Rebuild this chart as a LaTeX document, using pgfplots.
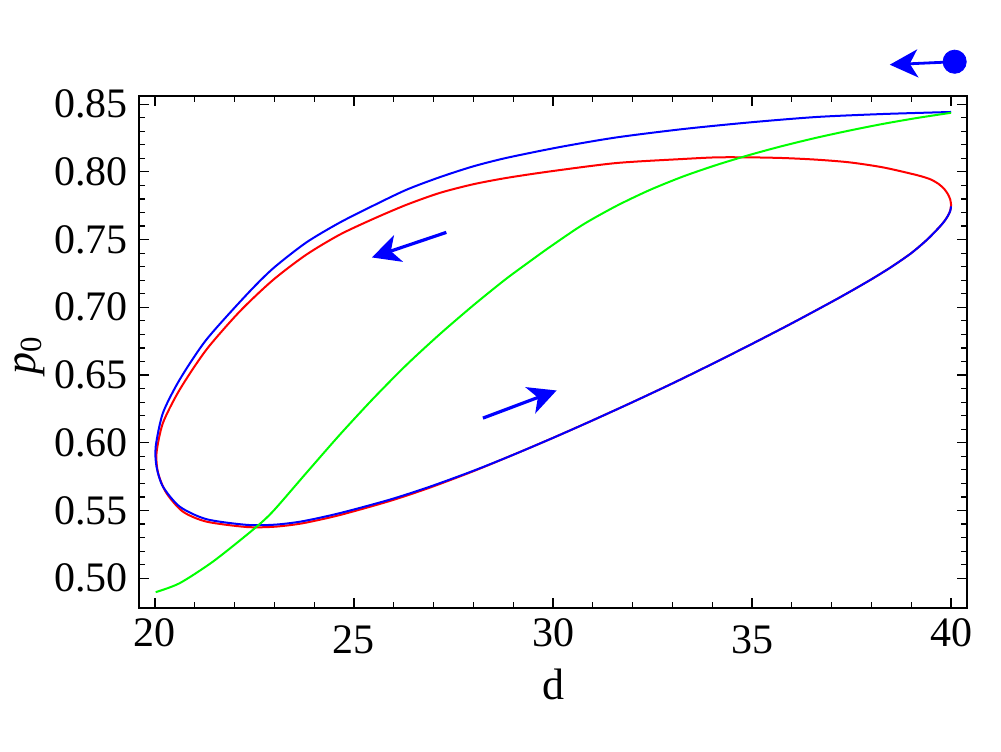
\documentclass[border=0pt]{standalone}
\usepackage{fontspec}
\setmainfont{Liberation Serif}
\usepackage{pgfplots}
\pgfplotsset{compat=1.18}
\usetikzlibrary{arrows.meta}
\begin{document}
\begin{tikzpicture}
\useasboundingbox (-69.5pt,-71.5pt) rectangle (431pt,304pt);
\begin{axis}[
  at={(0,0)}, anchor=south west,
  width=414pt, height=256pt, scale only axis,
  xmin=19.6, xmax=40.4, ymin=0.478, ymax=0.856,
  clip=false,
  axis line style={line width=0.6pt},
  tick style={black, line width=0.6pt},
  tick align=inside,
  major tick length=5pt, minor tick length=3pt,
  xtick={20,25,30,35,40},
  xticklabels={20,\raisebox{-3.5pt}{25},30,\raisebox{-3.5pt}{35},40},
  minor x tick num=4,
  ytick={0.50,0.55,0.60,0.65,0.70,0.75,0.80,0.85},
  minor y tick num=4,
  yticklabel style={/pgf/number format/fixed, /pgf/number format/fixed zerofill, /pgf/number format/precision=2, inner sep=0pt, xshift=-5.5pt},
  xticklabel style={inner sep=0pt, text height=14pt, yshift=-5pt},
  tick label style={font=\fontsize{21}{25}\selectfont},
  /pgf/number format/assume math mode=true,
  xlabel={d}, ylabel={\textit{p}\textsubscript{0}},
  label style={font=\fontsize{22}{26}\selectfont},
  xlabel style={at={(axis description cs:0.5,-0.150)}, anchor=center},
  ylabel style={at={(axis description cs:-0.1316,0.494)}, anchor=center},
]
% red limit cycle
\addplot[red, line width=1pt, smooth, tension=0.45] coordinates {
(40.00,0.7755) (39.98,0.7795) (39.92,0.7835) (39.83,0.7873) (39.69,0.7910) (39.48,0.7945)
(39.14,0.7976) (38.29,0.8033) (37.45,0.8070) (36.62,0.8090) (35.78,0.8102) (34.94,0.8107)
(34.11,0.8107) (33.27,0.8095) (31.59,0.8065) (29.92,0.8003) (28.83,0.7955) (27.99,0.7908)
(27.15,0.7844) (26.32,0.7757) (25.48,0.7652) (24.64,0.7536) (23.80,0.7388) (22.96,0.7200)
(22.13,0.6969) (21.29,0.6686) (20.62,0.6391) (20.20,0.6145) (20.04,0.5923) (20.08,0.5776)
(20.29,0.5628) (20.70,0.5492) (21.29,0.5418) (22.30,0.5378) (23.00,0.5380) (23.70,0.5405)
(24.64,0.5466) (25.90,0.5570) (26.90,0.5668) (28.00,0.5790) (29.00,0.5911) (30.00,0.6036)
(31.00,0.6166) (32.00,0.6300) (33.00,0.6438) (34.00,0.6582) (35.00,0.6730) (36.00,0.6882)
(37.00,0.7040) (37.50,0.7122) (38.00,0.7207) (38.50,0.7298) (39.00,0.7400) (39.40,0.7500)
(39.70,0.7590) (39.83,0.7635) (39.92,0.7675) (39.98,0.7715) (40.00,0.7755)
};
% blue trajectory
\addplot[blue, line width=1pt, smooth, tension=0.45] coordinates {
(40.00,0.8442) (38.29,0.8427) (36.62,0.8405) (34.94,0.8365) (33.27,0.8316) (31.59,0.8254)
(30.17,0.8183) (28.83,0.8103) (27.99,0.8040) (27.15,0.7960) (26.32,0.7868) (25.48,0.7750)
(24.64,0.7625) (23.80,0.7478) (22.96,0.7285) (22.30,0.7092) (21.29,0.6760) (20.62,0.6465)
(20.20,0.6219) (20.02,0.5972) (20.04,0.5824) (20.20,0.5677) (20.62,0.5529) (21.29,0.5436)
(22.30,0.5394) (23.00,0.5395) (23.70,0.5420) (24.64,0.5480) (25.90,0.5580) (26.90,0.5675)
(28.00,0.5793) (29.00,0.5911) (30.00,0.6036) (31.00,0.6166) (32.00,0.6300) (33.00,0.6438)
(34.00,0.6582) (35.00,0.6730) (36.00,0.6882) (37.00,0.7040) (37.50,0.7122) (38.00,0.7207)
(38.50,0.7298) (39.00,0.7400) (39.40,0.7500) (39.70,0.7590) (39.83,0.7635) (39.92,0.7675)
(39.98,0.7712) (40.00,0.7745)
};
% green curve
\addplot[green, line width=1pt, smooth, tension=0.45] coordinates {
(20.02,0.4897) (20.62,0.4963) (21.46,0.5123) (22.46,0.5357) (22.96,0.5492) (23.80,0.5776)
(24.64,0.6058) (25.48,0.6325) (26.32,0.6575) (27.15,0.6800) (28.00,0.7015) (28.80,0.7205)
(29.40,0.7335) (29.92,0.7445) (30.75,0.7610) (31.59,0.7748) (32.43,0.7866) (33.27,0.7966)
(34.11,0.8051) (34.94,0.8125) (35.78,0.8192) (36.62,0.8252) (37.45,0.8305) (38.29,0.8354)
(39.13,0.8397) (40.00,0.8436)
};
% direction arrows
\addplot[blue, line width=1.6pt, -{Stealth[length=14pt, width=14pt, inset=4pt]}] coordinates {(27.32,0.7553) (25.45,0.7368)};
\addplot[blue, line width=1.6pt, -{Stealth[length=14pt, width=14pt, inset=4pt]}] coordinates {(28.24,0.6182) (30.09,0.6386)};
\addplot[blue, line width=1.4pt, -{Stealth[length=14pt, width=14pt, inset=4pt]}] coordinates {(40.09,0.8813) (38.46,0.8791)};
\addplot[blue, only marks, mark=*, mark size=5.8pt, mark options={draw=blue, fill=blue}] coordinates {(40.09,0.8813)};
\end{axis}
\end{tikzpicture}
\end{document}
